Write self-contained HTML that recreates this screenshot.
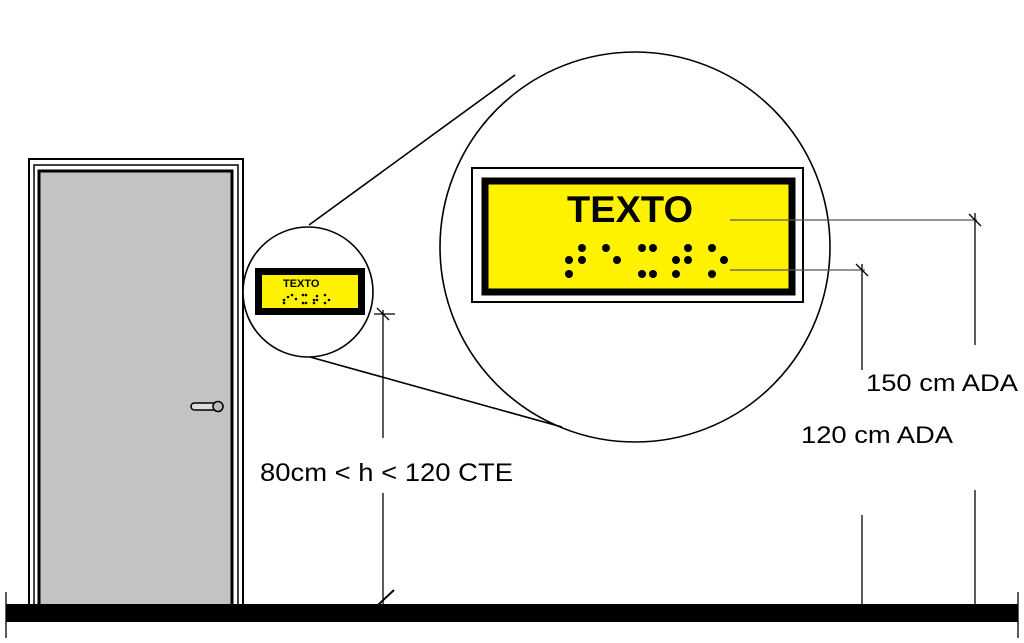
<!DOCTYPE html>
<html><head><style>body{margin:0;background:#fff}svg{display:block}</style></head><body>
<svg width="1024" height="643" viewBox="0 0 1024 643" xmlns="http://www.w3.org/2000/svg" font-family="Liberation Sans, sans-serif">
<!-- door -->
<rect x="29" y="159" width="214" height="447" fill="#fff" stroke="#000" stroke-width="2"/>
<rect x="34" y="165" width="204" height="441" fill="#fff" stroke="#000" stroke-width="1.5"/>
<rect x="39" y="171" width="193" height="435" fill="#c3c3c3" stroke="#000" stroke-width="3"/>
<rect x="191" y="403" width="32" height="7" rx="3.5" fill="#ddd" stroke="#000" stroke-width="1.5"/>
<circle cx="218" cy="406.5" r="5" fill="#bbb" stroke="#000" stroke-width="1.5"/>
<!-- circles -->
<circle cx="635" cy="247" r="195" fill="#fff" stroke="#000" stroke-width="1.6"/>
<line x1="309" y1="225" x2="515" y2="75" stroke="#000" stroke-width="1.6"/>
<line x1="310" y1="357" x2="562" y2="427" stroke="#000" stroke-width="1.6"/>
<circle cx="308" cy="292" r="65" fill="#fff" stroke="#000" stroke-width="1.6"/>
<!-- small sign -->
<rect x="255" y="268" width="110" height="47" fill="#000"/>
<rect x="262" y="275" width="96" height="33" fill="#fff200"/>
<text x="283" y="287" font-size="11" font-weight="bold">TEXTO</text>
<g fill="#000">
<circle cx="284" cy="300" r="1.3"/><circle cx="288" cy="297" r="1.3"/><circle cx="284" cy="303" r="1.3"/><circle cx="292" cy="295" r="1.3"/><circle cx="296" cy="299" r="1.3"/>
<circle cx="303" cy="295" r="1.3"/><circle cx="306" cy="295" r="1.3"/><circle cx="303" cy="303" r="1.3"/><circle cx="306" cy="303" r="1.3"/>
<circle cx="314" cy="300" r="1.3"/><circle cx="317" cy="296" r="1.3"/><circle cx="317" cy="300" r="1.3"/><circle cx="314" cy="303" r="1.3"/>
<circle cx="325" cy="295" r="1.3"/><circle cx="329" cy="300" r="1.3"/><circle cx="325" cy="303" r="1.3"/>
</g>
<!-- big sign -->
<rect x="472" y="168" width="331" height="134" fill="#fff" stroke="#000" stroke-width="2"/>
<rect x="485" y="181" width="307" height="111" fill="#fff200" stroke="#000" stroke-width="7"/>
<text x="567" y="222" font-size="37" font-weight="bold" textLength="126" lengthAdjust="spacingAndGlyphs">TEXTO</text>
<g fill="#000">
<circle cx="582" cy="248" r="4"/><circle cx="606" cy="248" r="4"/><circle cx="642" cy="248" r="4"/><circle cx="653" cy="248" r="4"/><circle cx="688" cy="248" r="4"/><circle cx="712" cy="248" r="4"/>
<circle cx="569" cy="260" r="4"/><circle cx="582" cy="260" r="4"/><circle cx="617" cy="260" r="4"/><circle cx="676" cy="260" r="4"/><circle cx="688" cy="260" r="4"/><circle cx="724" cy="260" r="4"/>
<circle cx="569" cy="274" r="4"/><circle cx="642" cy="274" r="4"/><circle cx="653" cy="274" r="4"/><circle cx="676" cy="274" r="4"/><circle cx="712" cy="274" r="4"/>
</g>
<g stroke="#000" stroke-width="1.3" fill="none">
<line x1="730" y1="220" x2="977" y2="220" stroke="#555"/>
<line x1="730" y1="270" x2="865" y2="270" stroke="#555"/>
<line x1="975" y1="213" x2="975" y2="345"/>
<line x1="975" y1="490" x2="975" y2="605"/>
<line x1="969" y1="214" x2="981" y2="226"/>
<line x1="862" y1="264" x2="862" y2="370"/>
<line x1="862" y1="515" x2="862" y2="605"/>
<line x1="856" y1="264" x2="868" y2="276"/>
<line x1="383" y1="310" x2="383" y2="438"/>
<line x1="383" y1="493" x2="383" y2="605"/>
<line x1="374" y1="314" x2="395" y2="314"/>
<line x1="377" y1="308" x2="389" y2="320"/>
<line x1="378" y1="605" x2="394" y2="590" stroke-width="2"/>
<line x1="6" y1="592" x2="6" y2="638"/>
<line x1="1018" y1="592" x2="1018" y2="638"/>
</g>
<text x="866" y="391" font-size="24" textLength="152" lengthAdjust="spacingAndGlyphs">150 cm ADA</text>
<text x="801" y="443" font-size="24" textLength="152" lengthAdjust="spacingAndGlyphs">120 cm ADA</text>
<text x="260" y="481" font-size="25" textLength="253" lengthAdjust="spacingAndGlyphs">80cm &lt; h &lt; 120 CTE</text>
<!-- floor -->
<rect x="6" y="604" width="1012" height="18" fill="#000"/>
</svg>
</body></html>
